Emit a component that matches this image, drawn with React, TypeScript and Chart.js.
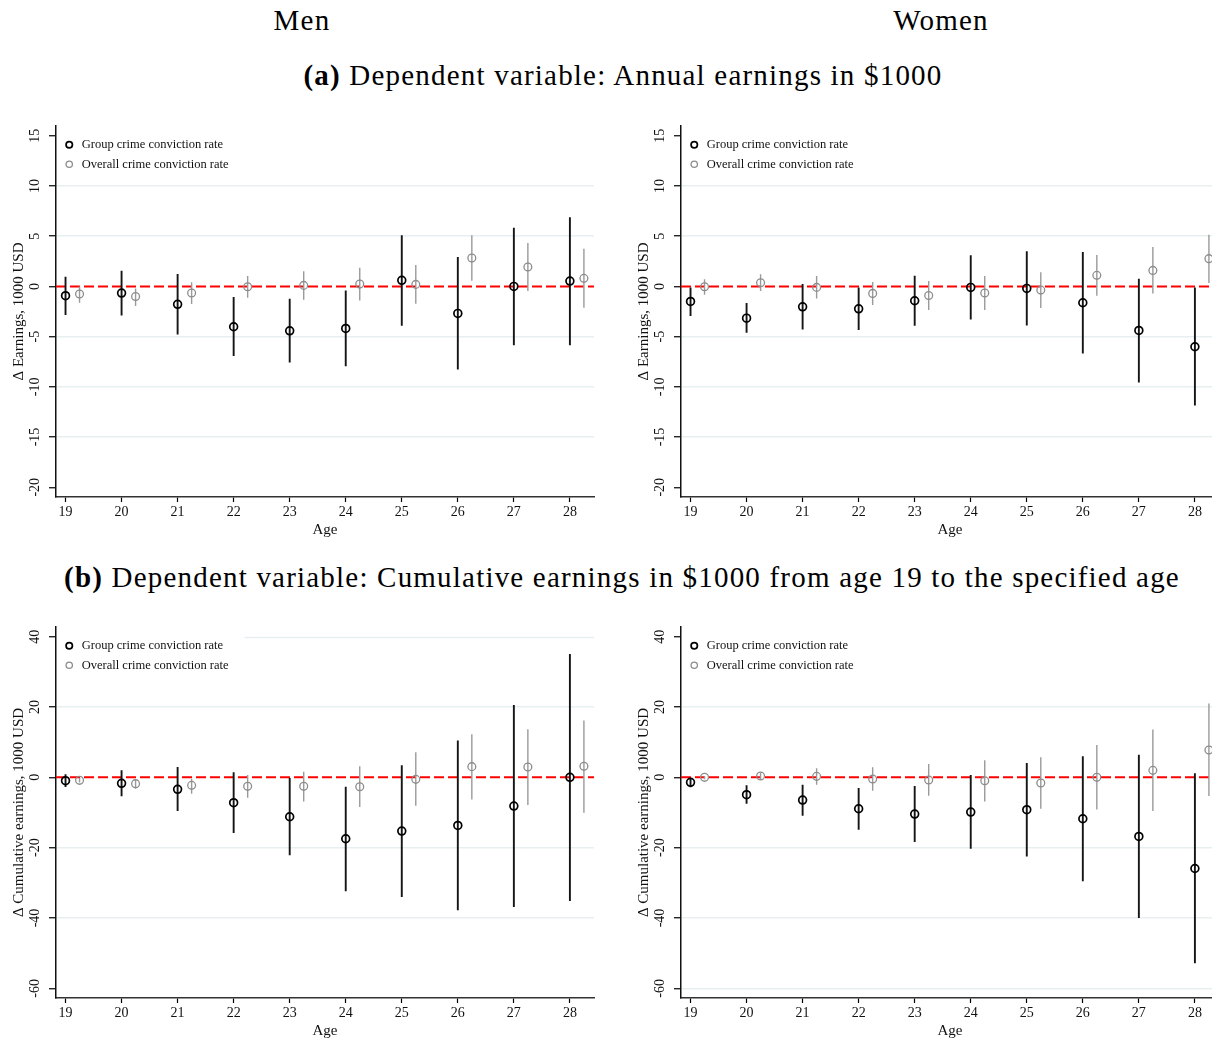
import React, { useEffect, useRef } from "react";
import { Chart, registerables } from "chart.js";

Chart.register(...registerables);

// ---------- data ----------
const ages = [19, 20, 21, 22, 23, 24, 25, 26, 27, 28];
const ageTicks = [19, 20, 21, 22, 23, 24, 25, 26, 27, 28];
const annualTicks = [15, 10, 5, 0, -5, -10, -15, -20];
const cumulativeTicks = [40, 20, 0, -20, -40, -60];

const legendGroup = "Group crime conviction rate";
const legendOverall = "Overall crime conviction rate";

// (a) Annual earnings, men
const menAnnualGroup = [-0.93, -0.66, -1.79, -4.02, -4.42, -4.19, 0.6, -2.69, 0.0, 0.53];
const menAnnualGroupLo = [-2.86, -2.89, -4.78, -6.94, -7.57, -7.94, -3.92, -8.27, -5.85, -5.85];
const menAnnualGroupHi = [0.96, 1.56, 1.23, -1.06, -1.23, -0.4, 5.08, 2.92, 5.85, 6.88];
const menAnnualOverall = [-0.76, -1.0, -0.66, -0.03, 0.1, 0.23, 0.2, 2.82, 1.93, 0.8];
const menAnnualOverallLo = [-1.63, -1.96, -1.76, -1.13, -1.33, -1.4, -1.73, 0.56, -0.47, -2.13];
const menAnnualOverallHi = [0.0, -0.2, 0.4, 1.03, 1.5, 1.86, 2.13, 5.08, 4.32, 3.75];

// (a) Annual earnings, women
const womenAnnualGroup = [-1.5, -3.16, -2.03, -2.23, -1.43, -0.1, -0.2, -1.63, -4.39, -6.01];
const womenAnnualGroupLo = [-2.96, -4.62, -4.29, -4.35, -3.92, -3.29, -3.89, -6.68, -9.57, -11.86];
const womenAnnualGroupHi = [-0.1, -1.66, 0.23, -0.1, 1.06, 3.09, 3.49, 3.42, 0.76, -0.1];
const womenAnnualOverall = [-0.03, 0.37, -0.1, -0.7, -0.9, -0.66, -0.37, 1.1, 1.59, 2.76];
const womenAnnualOverallLo = [-0.83, -0.47, -1.2, -1.86, -2.36, -2.36, -2.16, -0.93, -0.7, 0.33];
const womenAnnualOverallHi = [0.7, 1.2, 1.03, 0.43, 0.53, 1.03, 1.4, 3.12, 3.92, 5.15];

// (b) Cumulative earnings, men
const menCumGroup = [-0.95, -1.71, -3.42, -7.22, -11.21, -17.47, -15.29, -13.68, -8.17, 0.0];
const menCumGroupLo = [-2.75, -5.41, -9.59, -15.86, -22.13, -32.38, -34.0, -37.8, -36.85, -35.2];
const menCumGroupHi = [0.85, 2.0, 2.94, 1.42, -0.19, -2.66, 3.42, 10.45, 20.6, 35.1];
const menCumOverall = [-0.85, -1.8, -2.28, -2.56, -2.56, -2.66, -0.57, 3.04, 2.94, 3.13];
const menCumOverallLo = [-1.5, -3.23, -4.65, -5.79, -6.84, -8.45, -8.07, -6.27, -7.88, -10.07];
const menCumOverallHi = [-0.2, -0.57, -0.38, 0.66, 1.61, 3.13, 7.12, 12.25, 13.68, 16.14];

// (b) Cumulative earnings, women
const womenCumGroup = [-1.42, -4.94, -6.46, -8.93, -10.45, -9.88, -9.21, -11.78, -16.81, -25.93];
const womenCumGroupLo = [-2.85, -7.5, -10.92, -14.91, -18.42, -20.32, -22.51, -29.53, -39.98, -52.9];
const womenCumGroupHi = [-0.2, -2.28, -2.09, -3.04, -2.47, 0.66, 4.08, 5.98, 6.46, 1.14];
const womenCumOverall = [0.0, 0.38, 0.28, -0.47, -0.76, -0.95, -1.61, 0.0, 1.99, 7.79];
const womenCumOverallLo = [-0.57, -0.76, -2.09, -3.8, -5.22, -6.84, -8.93, -9.12, -9.59, -5.32];
const womenCumOverallHi = [0.38, 1.33, 2.56, 2.85, 3.8, 4.84, 5.7, 9.21, 13.58, 20.99];

// ---------- style ----------
const SERIF = "'Liberation Serif', 'Times New Roman', serif";
const overallShift = 0.25;
const xRange = [18.83, 28.43];
const annualRange = [-20.97, 15.97];
const cumulativeRange = [-62.76, 42.76];
const gridColor = "#e8eff1";
const groupColor = "#000000";
const groupCiColor = "#151515";
const overallColor = "#8c8c8c";
const overallCiColor = "#9a9a9a";
const legendOffsetTop = 5.5;

type PanelProps = {
  left: number;
  top: number;
  group: number[];
  groupLo: number[];
  groupHi: number[];
  overall: number[];
  overallLo: number[];
  overallHi: number[];
  yTicks: number[];
  yRange: number[];
  yTitle: string;
  gridVals: number[];
  partialGrid?: number;
};

const CANVAS_W = 600;
const CANVAS_H = 425;

function ciSegments(xs: number[], lo: number[], hi: number[], shift: number) {
  const pts: { x: number; y: number | null }[] = [];
  xs.forEach((x, i) => {
    pts.push({ x: x + shift, y: lo[i] });
    pts.push({ x: x + shift, y: hi[i] });
    pts.push({ x: x + shift, y: null });
  });
  return pts;
}

function Panel(p: PanelProps) {
  const ref = useRef<HTMLCanvasElement | null>(null);
  useEffect(() => {
    if (!ref.current) return;
    const panelPlugin = {
      id: "panelExtras",
      beforeDraw(chart: any) {
        const { ctx, chartArea, scales } = chart;
        if (chart.legend) {
          chart.legend.top = chartArea.top + legendOffsetTop;
        }
        if (p.partialGrid === undefined) return;
        const y = Math.round(scales.y.getPixelForValue(p.partialGrid)) + 0.5;
        let startX = chartArea.left + 185;
        const hb = chart.legend && chart.legend.legendHitBoxes;
        if (hb && hb.length) {
          startX = Math.max(...hb.map((h: any) => h.left + h.width)) + 16;
        }
        ctx.save();
        ctx.strokeStyle = gridColor;
        ctx.lineWidth = 1.5;
        ctx.beginPath();
        ctx.moveTo(startX, y);
        ctx.lineTo(chartArea.right, y);
        ctx.stroke();
        ctx.restore();
      },
    };

    const chart = new Chart(ref.current, {
      type: "scatter",
      data: {
        datasets: [
          {
            label: legendGroup,
            type: "scatter",
            data: ages.map((a, i) => ({ x: a, y: p.group[i] })),
            showLine: false,
            pointStyle: "circle",
            pointRadius: 3.9,
            pointBorderWidth: 1.7,
            borderWidth: 1.7,
            borderColor: groupColor,
            pointBorderColor: groupColor,
            backgroundColor: "rgba(0,0,0,0)",
            pointBackgroundColor: "rgba(0,0,0,0)",
            order: 1,
          } as any,
          {
            label: legendOverall,
            type: "scatter",
            data: ages.map((a, i) => ({ x: a + overallShift, y: p.overall[i] })),
            showLine: false,
            pointStyle: "circle",
            pointRadius: 3.9,
            pointBorderWidth: 1.3,
            borderWidth: 1.3,
            borderColor: overallColor,
            pointBorderColor: overallColor,
            backgroundColor: "rgba(0,0,0,0)",
            pointBackgroundColor: "rgba(0,0,0,0)",
            order: 2,
          } as any,
          {
            label: "groupCI",
            type: "line",
            data: ciSegments(ages, p.groupLo, p.groupHi, 0),
            borderColor: groupCiColor,
            borderWidth: 1.9,
            pointRadius: 0,
            spanGaps: false,
            order: 4,
          } as any,
          {
            label: "overallCI",
            type: "line",
            data: ciSegments(ages, p.overallLo, p.overallHi, overallShift),
            borderColor: overallCiColor,
            borderWidth: 1.4,
            pointRadius: 0,
            spanGaps: false,
            order: 5,
          } as any,
          {
            label: "zero",
            type: "line",
            data: [
              { x: xRange[0], y: 0 },
              { x: xRange[1], y: 0 },
            ],
            borderColor: "#ff0000",
            borderWidth: 2,
            borderDash: [10, 4],
            pointRadius: 0,
            order: 10,
          } as any,
        ],
      },
      options: {
        animation: false,
        responsive: false,
        devicePixelRatio: 1,
        layout: { padding: { left: 0, top: 7, right: 6, bottom: 0 } },
        plugins: {
          tooltip: { enabled: false },
          legend: {
            display: true,
            position: "chartArea" as any,
            align: "start",
            labels: {
              filter: (item: any) => item.text === legendGroup || item.text === legendOverall,
              usePointStyle: true,
              pointStyle: "circle",
              boxWidth: 12.5,
              boxHeight: 4.5,
              padding: 7,
              color: "#111",
              font: { family: SERIF, size: 12.5 },
            },
          },
        },
        scales: {
          x: {
            type: "linear",
            min: xRange[0],
            max: xRange[1],
            afterBuildTicks: (s: any) => {
              s.ticks = ageTicks.map((v) => ({ value: v }));
            },
            afterFit: (s: any) => {
              s.height = 47;
              s.paddingLeft = 0;
              s.paddingRight = 0;
            },
            grid: {
              drawOnChartArea: false,
              drawTicks: true,
              tickLength: 5,
              tickColor: "#000",
              tickWidth: 1.2,
            },
            border: { display: true, color: "#333", width: 1.5 },
            ticks: {
              color: "#111",
              font: { family: SERIF, size: 14 },
              padding: 2,
              maxRotation: 0,
              autoSkip: false,
              callback: (v: any) => String(v),
            },
            title: {
              display: true,
              text: "Age",
              color: "#111",
              font: { family: SERIF, size: 15 },
              padding: { top: 0, bottom: 5 },
            },
          },
          y: {
            type: "linear",
            min: p.yRange[0],
            max: p.yRange[1],
            afterBuildTicks: (s: any) => {
              s.ticks = p.yTicks.map((v) => ({ value: v }));
            },
            afterFit: (s: any) => {
              s.width = 56;
              s.paddingTop = 0;
              s.paddingBottom = 0;
            },
            grid: {
              drawOnChartArea: true,
              drawTicks: true,
              tickLength: 7,
              lineWidth: 1.5,
              color: (ctx: any) =>
                ctx.tick && p.gridVals.includes(ctx.tick.value) ? gridColor : "rgba(0,0,0,0)",
              tickColor: "#000",
              tickWidth: 1.2,
            },
            border: { display: true, color: "#111", width: 1.5 },
            ticks: {
              color: "#111",
              font: { family: SERIF, size: 14 },
              padding: 4,
              minRotation: 90,
              maxRotation: 90,
              crossAlign: "center",
              autoSkip: false,
              callback: (v: any) => String(v),
            },
            title: {
              display: true,
              text: p.yTitle,
              color: "#111",
              font: { family: SERIF, size: 15 },
              padding: { top: 10, bottom: 0 },
            },
          },
        },
      },
      plugins: [panelPlugin],
    } as any);
    return () => chart.destroy();
  }, []);
  return (
    <canvas
      ref={ref}
      width={CANVAS_W}
      height={CANVAS_H}
      style={{ position: "absolute", left: p.left, top: p.top, width: CANVAS_W, height: CANVAS_H }}
    />
  );
}

function Caption(props: { cx: number; cy: number; children: any }) {
  return (
    <div
      style={{
        position: "absolute",
        left: props.cx - 600,
        width: 1200,
        top: props.cy - 20,
        height: 40,
        lineHeight: "40px",
        textAlign: "center",
        fontFamily: SERIF,
        fontSize: 29,
        letterSpacing: 1.2,
        color: "#000",
        whiteSpace: "nowrap",
      }}
    >
      {props.children}
    </div>
  );
}

export default function App() {
  return (
    <div
      style={{
        position: "absolute",
        left: 0,
        top: 0,
        width: 1212,
        height: 1041,
        overflow: "hidden",
        background: "#fff",
      }}
    >
      <Caption cx={302} cy={20}>Men</Caption>
      <Caption cx={941} cy={20}>Women</Caption>
      <Caption cx={623} cy={75}>
        <b>(a)</b> Dependent variable: Annual earnings in $1000
      </Caption>
      <Caption cx={622} cy={577}>
        <b>(b)</b> Dependent variable: Cumulative earnings in $1000 from age 19 to the specified age
      </Caption>
      <Panel
        left={0}
        top={119}
        group={menAnnualGroup}
        groupLo={menAnnualGroupLo}
        groupHi={menAnnualGroupHi}
        overall={menAnnualOverall}
        overallLo={menAnnualOverallLo}
        overallHi={menAnnualOverallHi}
        yTicks={annualTicks}
        yRange={annualRange}
        yTitle="Δ Earnings, 1000 USD"
        gridVals={[10, 5, -5, -10, -15]}
      />
      <Panel
        left={625}
        top={119}
        group={womenAnnualGroup}
        groupLo={womenAnnualGroupLo}
        groupHi={womenAnnualGroupHi}
        overall={womenAnnualOverall}
        overallLo={womenAnnualOverallLo}
        overallHi={womenAnnualOverallHi}
        yTicks={annualTicks}
        yRange={annualRange}
        yTitle="Δ Earnings, 1000 USD"
        gridVals={[10, 5, -5, -10, -15]}
      />
      <Panel
        left={0}
        top={620}
        group={menCumGroup}
        groupLo={menCumGroupLo}
        groupHi={menCumGroupHi}
        overall={menCumOverall}
        overallLo={menCumOverallLo}
        overallHi={menCumOverallHi}
        yTicks={cumulativeTicks}
        yRange={cumulativeRange}
        yTitle="Δ Cumulative earnings, 1000 USD"
        gridVals={[20, -20, -40]}
        partialGrid={40}
      />
      <Panel
        left={625}
        top={620}
        group={womenCumGroup}
        groupLo={womenCumGroupLo}
        groupHi={womenCumGroupHi}
        overall={womenCumOverall}
        overallLo={womenCumOverallLo}
        overallHi={womenCumOverallHi}
        yTicks={cumulativeTicks}
        yRange={cumulativeRange}
        yTitle="Δ Cumulative earnings, 1000 USD"
        gridVals={[20, -20, -40, -60]}
      />
    </div>
  );
}
